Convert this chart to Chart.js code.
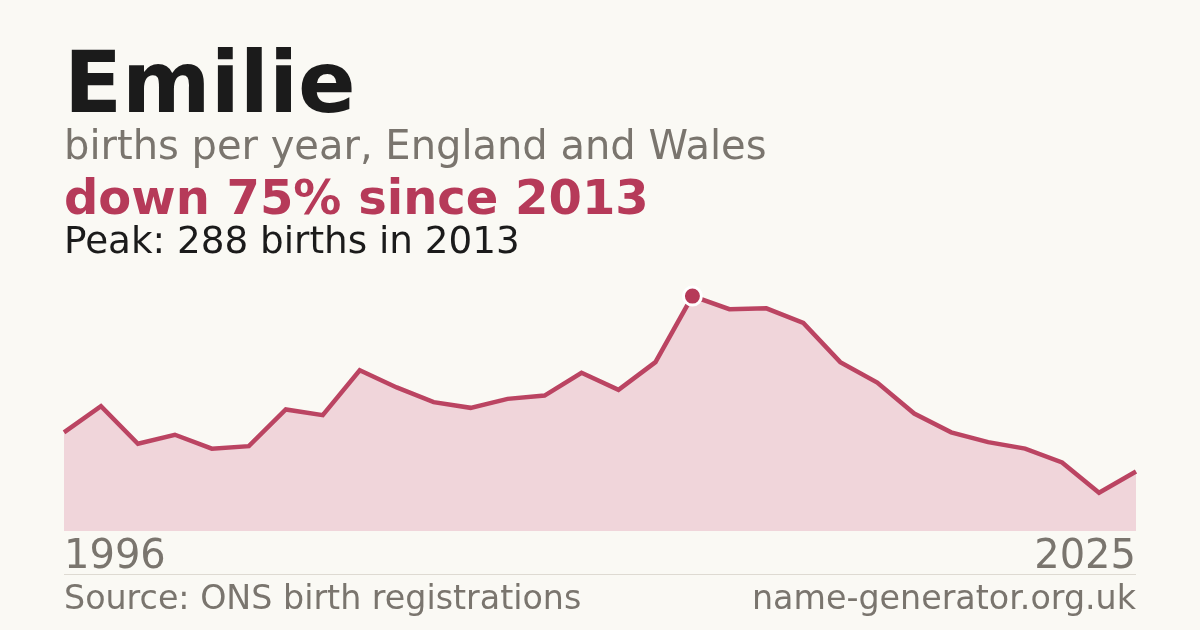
<!DOCTYPE html>
<html>
<head>
    <title>Emilie - births per year</title>
    <script src="https://cdn.jsdelivr.net/npm/chart.js"></script>
    <style>
        html, body {
            margin: 0;
            padding: 0;
            background: #faf9f4;
            font-family: "DejaVu Sans", sans-serif;
        }
        .page {
            position: relative;
            width: 1200px;
            height: 630px;
            overflow: hidden;
        }
        .txt {
            position: absolute;
            left: 64px;
            white-space: nowrap;
            line-height: 1;
        }
        .name { top: 40px; font-size: 85px; font-weight: bold; color: #1b1b1b; }
        .sub { top: 125px; font-size: 40px; color: #7a756e; }
        .change { top: 173px; font-size: 48px; font-weight: bold; color: #b63a59; }
        .peak { top: 222px; font-size: 37.3px; color: #1b1b1b; }
        .rule {
            position: absolute;
            left: 64px;
            width: 1072px;
            top: 574px;
            height: 1px;
            background: #dedad2;
        }
        .foot { top: 581px; font-size: 33.3px; color: #7a756e; }
        .foot.right { left: auto; right: 64px; }
        canvas { position: absolute; left: 0; top: 0; }
    </style>
</head>
<body>
<div class="page">
    <canvas id="chart" width="1200" height="630"></canvas>
    <div class="txt name">Emilie</div>
    <div class="txt sub">births per year, England and Wales</div>
    <div class="txt change">down 75% since 2013</div>
    <div class="txt peak">Peak: 288 births in 2013</div>
    <div class="rule"></div>
    <div class="txt foot">Source: ONS birth registrations</div>
    <div class="txt foot right">name-generator.org.uk</div>
</div>
<script>
    const years = ['1996', '1997', '1998', '1999', '2000', '2001', '2002', '2003', '2004', '2005',
                   '2006', '2007', '2008', '2009', '2010', '2011', '2012', '2013', '2014', '2015',
                   '2016', '2017', '2018', '2019', '2020', '2021', '2022', '2023', '2024', '2025'];
    const births = [121, 153, 107, 118, 101, 104, 149, 142, 197, 176,
                    158, 151, 162, 166, 194, 173, 207, 288, 272, 273,
                    255, 207, 182, 144, 121, 109, 101, 84, 47, 73];
    const peakYear = '2013';

    const lineColor = '#bb4462';
    const peakIndex = years.indexOf(peakYear);

    // only the peak year gets a visible marker
    const radii = births.map((v, i) => i === peakIndex ? 9 : 0);

    new Chart(document.getElementById('chart').getContext('2d'), {
        type: 'line',
        data: {
            labels: years,
            datasets: [{
                data: births,
                borderColor: lineColor,
                borderWidth: 4.5,
                backgroundColor: '#f0d5da',
                fill: 'origin',
                tension: 0,
                pointRadius: radii,
                pointHoverRadius: radii,
                pointBackgroundColor: '#b63a59',
                pointBorderColor: '#ffffff',
                pointBorderWidth: 3
            }]
        },
        options: {
            responsive: false,
            animation: false,
            layout: { padding: { top: 270, left: 64, right: 64, bottom: 45 } },
            plugins: { legend: { display: false }, tooltip: { enabled: false } },
            scales: {
                x: {
                    offset: false,
                    grid: { display: false, drawTicks: false },
                    border: { display: false },
                    ticks: {
                        autoSkip: false,
                        maxRotation: 0,
                        align: 'inner',
                        padding: 3,
                        color: '#7a756e',
                        font: { family: 'DejaVu Sans', size: 40 },
                        callback: function(value, index) {
                            return (index === 0 || index === years.length - 1) ? years[index] : '';
                        }
                    }
                },
                y: {
                    display: false,
                    min: 0,
                    max: 320
                }
            }
        }
    });
</script>
</body>
</html>
